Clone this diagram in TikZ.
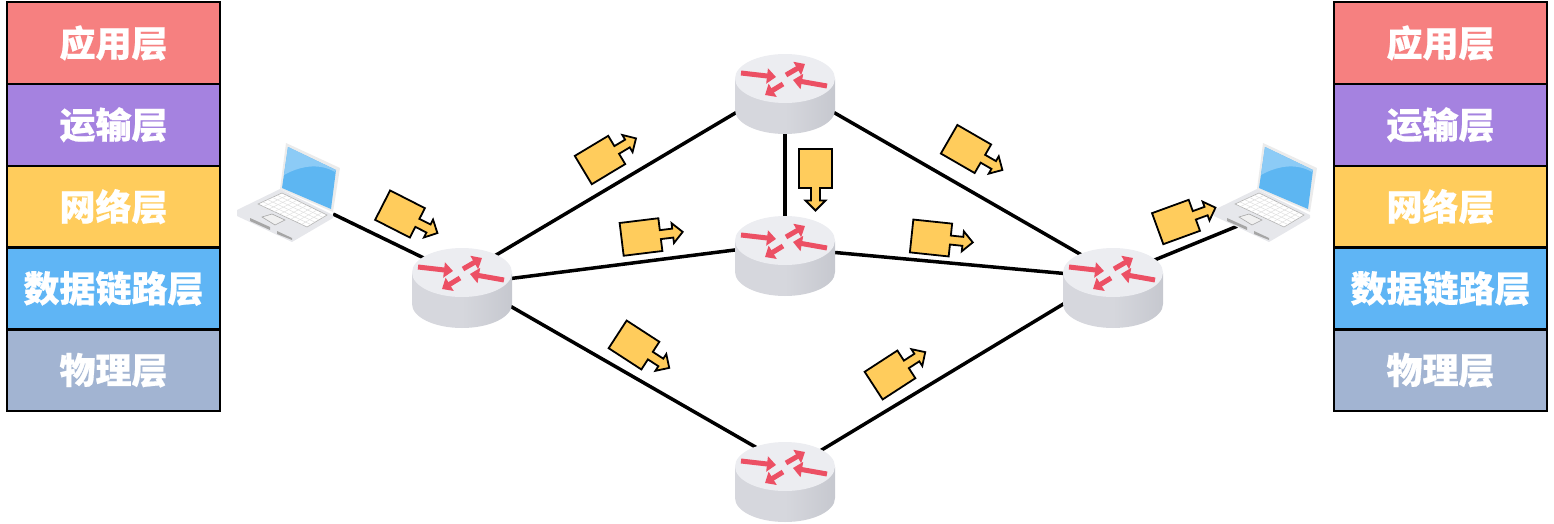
\documentclass[tikz,border=0pt]{standalone}
\usepackage{fontspec}
\usepackage{xcolor}
\usetikzlibrary{arrows.meta, positioning, shapes.geometric}
\newfontfamily\cjk{Noto Sans CJK SC}[BoldFeatures={FakeBold=0.6}]
\definecolor{appred}{HTML}{F68080}
\definecolor{transpurple}{HTML}{A582E0}
\definecolor{netyellow}{HTML}{FFCC5C}
\definecolor{linkblue}{HTML}{5FB5F5}
\definecolor{physgray}{HTML}{A2B4D2}
\definecolor{routertop}{HTML}{ECEDF1}
\definecolor{routerside}{HTML}{D6D7DD}
\definecolor{routerdark}{HTML}{C6C8CF}
\definecolor{routerred}{HTML}{EC5064}
\definecolor{screenblue}{HTML}{5DB6F2}
\definecolor{screenlight}{HTML}{8CCBF6}
\definecolor{laptopbody}{HTML}{E6E7EB}

\tikzset{
  layerbox/.style={draw=black, line width=2.4, outer sep=0pt, inner sep=0pt,
                   minimum width=213, minimum height=81.8, text=white,
                   font=\cjk\bfseries\fontsize{36}{36}\selectfont},
  routerspot/.style={ellipse, minimum width=100, minimum height=80, inner sep=0pt},
  laptopspot/.style={rectangle, minimum width=90, minimum height=66, inner sep=0pt},
  wire/.style={line width=3.5, draw=black},
  routerarrow/.style={draw=routerred, line width=5, -{Triangle[length=9, width=15]}},
  pics/router/.style={code={
    \path[left color=routerside, right color=routerdark, middle color=routerside]
      (-50,-15)--(-50,16) .. controls (-50,29.3) and (-27.6,40) .. (0,40)
      .. controls (27.6,40) and (50,29.3) .. (50,16)--(50,-15)--cycle;
    \fill[routertop] (0,-15.5) ellipse [x radius=50, y radius=24.5];
    \draw[routerarrow] (-44,-21)--(-9,-17);
    \draw[routerarrow] (1,-19)--(20,-30);
    \draw[routerarrow] (42,-8)--(8,-14);
    \draw[routerarrow] (-2,-10)--(-20,1);
  }},
  pics/laptop/.style={code={
    % base
    \fill[laptopbody] (-51,17)--(-8,-4)--(45,22)--(45,25)--(4,49)--(-51,23)--cycle;
    \fill[black!35] (-38,25)--(-18,34)--(-18,37)--(-38,28)--cycle;
    \fill[black!35] (-11,38)--(4,45)--(4,47)--(-11,41)--cycle;
    \fill[white, draw=black!30, line width=.6] (-30,11)--(-6,0)--(39,22)--(19,34)--cycle;
    \foreach \k in {1,...,4}
      \draw[black!12, line width=.5] ({-30+\k*4.8},{11-\k*2.2})--({19+\k*4},{34-\k*2.4});
    \foreach \k in {1,...,8}
      \draw[black!12, line width=.5] ({-30+\k*5.44},{11+\k*2.55})--({-6+\k*5},{0+\k*2.44});
    \fill[black!6, draw=black!35, line width=.6] (-26,24)--(-16,21)--(-3,27)--(-13,32)--cycle;
    % screen
    \fill[black!8] (-2,-50)--(52,-25)--(45,19)--(-8,-4)--cycle;
    \fill[screenblue] (0,-46)--(48,-23)--(43,16)--(-6,-5)--cycle;
    \fill[screenlight] (0,-46)--(48,-23)--(47,-21) .. controls (30,-31) and (10,-26) .. (-4,-18)--cycle;
  }},
  pics/packet/.style={code={
    \draw[fill=netyellow, draw=black, line width=1.8, line join=miter]
      (-19.5,-16.5)--(19.5,-16.5)--(19.5,-4.5)--(32,-4.5)--(32,-10)--(42,0)
      --(32,10)--(32,4.5)--(19.5,4.5)--(19.5,16.5)--(-19.5,16.5)--cycle;
  }}
}

\begin{document}
\begin{tikzpicture}[x=1pt, y=-1pt]
    \useasboundingbox (0,0) rectangle (1554,524);
    % left stack
    \node[layerbox, fill=appred] (appL) at (113.5,43) {应用层};
    \node[layerbox, fill=transpurple, below=0pt of appL] (transL) {运输层};
    \node[layerbox, fill=netyellow, below=0pt of transL] (netL) {网络层};
    \node[layerbox, fill=linkblue, below=0pt of netL] (linkL) {数据链路层};
    \node[layerbox, fill=physgray, below=0pt of linkL] (physL) {物理层};
    % right stack
    \node[layerbox, fill=appred] (appR) at (1440.5,43) {应用层};
    \node[layerbox, fill=transpurple, below=0pt of appR] (transR) {运输层};
    \node[layerbox, fill=netyellow, below=0pt of transR] (netR) {网络层};
    \node[layerbox, fill=linkblue, below=0pt of netR] (linkR) {数据链路层};
    \node[layerbox, fill=physgray, below=0pt of linkR] (physR) {物理层};
    % network
    \node[laptopspot] (pcL) at (288,193) {};
    \node[laptopspot] (pcR) at (1265,193) {};
    \node[routerspot] (rLeft) at (462,288) {};
    \node[routerspot] (rTop) at (785,94) {};
    \node[routerspot] (rMid) at (785,256) {};
    \node[routerspot] (rBot) at (785,482) {};
    \node[routerspot] (rRight) at (1113,288) {};
    \draw[wire] (pcL.-25)--(rLeft.141);
    \draw[wire] (rLeft.45)--(rTop.200);
    \draw[wire] (rLeft.11)--(rMid.173);
    \draw[wire] (rLeft.-20)--(rBot.129);
    \draw[wire] (rTop.south)--(rMid.north);
    \draw[wire] (rTop.-20)--(rRight.133);
    \draw[wire] (rMid.4)--(rRight.163);
    \draw[wire] (rBot.42)--(rRight.197);
    \draw[wire] (rRight.35)--(pcR.230);
    \foreach \n in {rLeft, rTop, rMid, rBot, rRight}
      \pic at (\n) {router};
    \pic at (pcL) {laptop};
    \pic at (pcR) {laptop};
    % packets
    \foreach \px/\py/\pa in {400/214/-27, 600/160/31, 641/237/7, 815.5/168.5/-90,
        966/149/-30, 931/238/-6, 1176/222/20, 634/345/-33, 890/375/33}
      \pic[rotate=\pa] at (\px,\py) {packet};
\end{tikzpicture}
\end{document}
